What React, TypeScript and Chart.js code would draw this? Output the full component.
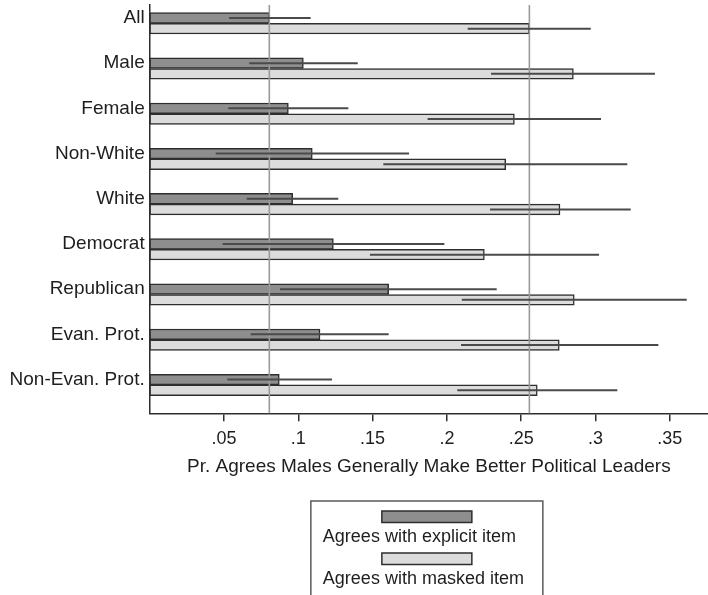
import React, { useEffect, useRef } from "react";
import { Chart, registerables } from "chart.js";

Chart.register(...registerables);

// Groups shown down the vertical axis
const categories = [
  "All",
  "Male",
  "Female",
  "Non-White",
  "White",
  "Democrat",
  "Republican",
  "Evan. Prot.",
  "Non-Evan. Prot.",
];

// Share agreeing with the explicit item, with 95% interval bounds
const explicitMean = [0.0805, 0.1034, 0.0933, 0.1094, 0.0962, 0.1236, 0.1608, 0.1146, 0.0872];
const explicitLow = [0.0534, 0.067, 0.0529, 0.0444, 0.0653, 0.0491, 0.0877, 0.068, 0.0522];
const explicitHigh = [0.1083, 0.14, 0.1337, 0.1745, 0.1269, 0.1983, 0.2335, 0.1608, 0.1227];

// Share agreeing with the masked (list-experiment) item, with 95% interval bounds
const maskedMean = [0.2555, 0.2851, 0.2454, 0.2396, 0.2761, 0.2252, 0.2857, 0.2756, 0.2608];
const maskedLow = [0.214, 0.2297, 0.187, 0.1572, 0.229, 0.1482, 0.21, 0.2095, 0.207];
const maskedHigh = [0.2968, 0.34, 0.3037, 0.3214, 0.3237, 0.3024, 0.3614, 0.3423, 0.3147];

// x-axis tick values
const xTicks = [0.05, 0.1, 0.15, 0.2, 0.25, 0.3, 0.35];

const seriesNames = ["Agrees with explicit item", "Agrees with masked item"];
const axisTitle = "Pr. Agrees Males Generally Make Better Political Leaders";

const FONT = "'Liberation Sans', Arial, Helvetica, sans-serif";
const TEXT = "#1e1e1e";
const DARK_FILL = "#8e8e8e";
const LIGHT_FILL = "#dcdcdc";
const OUTLINE = "#2e2e2e";

const fmtTick = (v: number) => String(Number(v.toFixed(2))).replace(/^0\./, ".");

// Vertical lines at the overall ("All") means, drawn over the bars
const meanLines = {
  id: "meanLines",
  afterDatasetsDraw(chart: any) {
    const { ctx, chartArea, scales } = chart;
    const x = scales.x;
    ctx.save();
    ctx.strokeStyle = "#9a9a9a";
    ctx.lineWidth = 1.6;
    [explicitMean[0], maskedMean[0]].forEach((v) => {
      const px = x.getPixelForValue(v);
      ctx.beginPath();
      ctx.moveTo(px, chartArea.top);
      ctx.lineTo(px, chartArea.bottom);
      ctx.stroke();
    });
    ctx.restore();
  },
};

// Confidence-interval whiskers through the middle of every bar
const intervals = {
  id: "intervals",
  afterDatasetsDraw(chart: any) {
    const { ctx, scales } = chart;
    const x = scales.x;
    const bounds = [
      [explicitLow, explicitHigh],
      [maskedLow, maskedHigh],
    ];
    ctx.save();
    ctx.strokeStyle = "#4a4a4a";
    ctx.lineWidth = 2;
    chart.data.datasets.forEach((_: any, di: number) => {
      const meta = chart.getDatasetMeta(di);
      const [lo, hi] = bounds[di];
      meta.data.forEach((bar: any, i: number) => {
        ctx.beginPath();
        ctx.moveTo(x.getPixelForValue(lo[i]), bar.y);
        ctx.lineTo(x.getPixelForValue(hi[i]), bar.y);
        ctx.stroke();
      });
    });
    ctx.restore();
  },
};

// Boxed legend below the axis: swatch stacked above each label
const boxedLegend = {
  id: "boxedLegend",
  afterDraw(chart: any) {
    const { ctx, chartArea } = chart;
    const cx = (chartArea.left + chartArea.right) / 2 - 2;
    const boxW = 232;
    const left = cx - boxW / 2;
    const top = 501;
    ctx.save();
    ctx.strokeStyle = "#5a5a5a";
    ctx.lineWidth = 1.5;
    ctx.strokeRect(left, top, boxW, 120);
    const fills = [DARK_FILL, LIGHT_FILL];
    const swW = 90;
    const swH = 11.5;
    const rowTop = [511, 553];
    ctx.font = `18px ${FONT}`;
    ctx.textBaseline = "middle";
    ctx.textAlign = "left";
    seriesNames.forEach((name, i) => {
      ctx.fillStyle = fills[i];
      ctx.fillRect(cx - swW / 2, rowTop[i], swW, swH);
      ctx.strokeStyle = OUTLINE;
      ctx.lineWidth = 1.5;
      ctx.strokeRect(cx - swW / 2, rowTop[i], swW, swH);
      ctx.fillStyle = TEXT;
      ctx.fillText(name, left + 12, rowTop[i] + 26.5);
    });
    ctx.restore();
  },
};

export default function App() {
  const canvasRef = useRef<HTMLCanvasElement | null>(null);

  useEffect(() => {
    document.body.style.margin = "0";
    const canvas = canvasRef.current;
    if (!canvas) return;

    const chart = new Chart(canvas, {
      type: "bar",
      data: {
        datasets: [
          {
            label: seriesNames[0],
            data: explicitMean.map((v, i) => ({ x: v, y: i })),
            backgroundColor: DARK_FILL,
            borderColor: OUTLINE,
            borderWidth: 1.5,
            borderSkipped: false,
          },
          {
            label: seriesNames[1],
            data: maskedMean.map((v, i) => ({ x: v, y: i })),
            backgroundColor: LIGHT_FILL,
            borderColor: OUTLINE,
            borderWidth: 1.5,
            borderSkipped: false,
          },
        ] as any,
      },
      options: {
        indexAxis: "y",
        animation: false,
        responsive: true,
        maintainAspectRatio: false,
        datasets: { bar: { barThickness: 10.7 } } as any,
        layout: { padding: { top: 5, right: 0, bottom: 0, left: 0 } },
        plugins: {
          legend: { display: false },
          tooltip: { enabled: false },
        },
        scales: {
          y: {
            type: "linear",
            reverse: true,
            offset: false,
            grace: 0,
            bounds: "data",
            min: -0.405,
            max: 8.628,
            afterBuildTicks: (axis: any) => {
              axis.ticks = categories.map((_, i) => ({ value: i - 0.118 }));
            },
            afterFit: (axis: any) => {
              axis.width = 149.7;
              axis.paddingTop = 0;
              axis.paddingBottom = 0;
            },
            grid: { display: false, drawTicks: false, offset: false },
            border: { display: true, color: OUTLINE, width: 1.5 },
            ticks: {
              padding: 5,
              color: TEXT,
              font: { family: FONT, size: 19 },
              callback: (_v: any, i: number) => categories[i],
            },
          },
          x: {
            type: "linear",
            min: 0,
            max: 0.3757,
            afterBuildTicks: (axis: any) => {
              axis.ticks = xTicks.map((v) => ({ value: v }));
            },
            afterFit: (axis: any) => {
              axis.height = 181.7;
              axis.paddingLeft = 0;
              axis.paddingRight = 0;
            },
            grid: {
              drawOnChartArea: false,
              drawTicks: true,
              tickLength: 8,
              color: OUTLINE,
              lineWidth: 1.5,
            },
            border: { display: true, color: OUTLINE, width: 1.5 },
            ticks: {
              padding: 7,
              color: TEXT,
              maxRotation: 0,
              autoSkip: false,
              font: { family: FONT, size: 18 },
              callback: (v: any) => fmtTick(Number(v)),
            },
            title: {
              display: true,
              text: axisTitle,
              color: TEXT,
              font: { family: FONT, size: 19 },
              padding: { top: 0, bottom: 117 },
            },
          },
        },
      },
      plugins: [meanLines, intervals, boxedLegend],
    });

    return () => chart.destroy();
  }, []);

  return (
    <div style={{ position: "relative", width: 708, height: 595, background: "#fff" }}>
      <canvas ref={canvasRef} />
    </div>
  );
}
